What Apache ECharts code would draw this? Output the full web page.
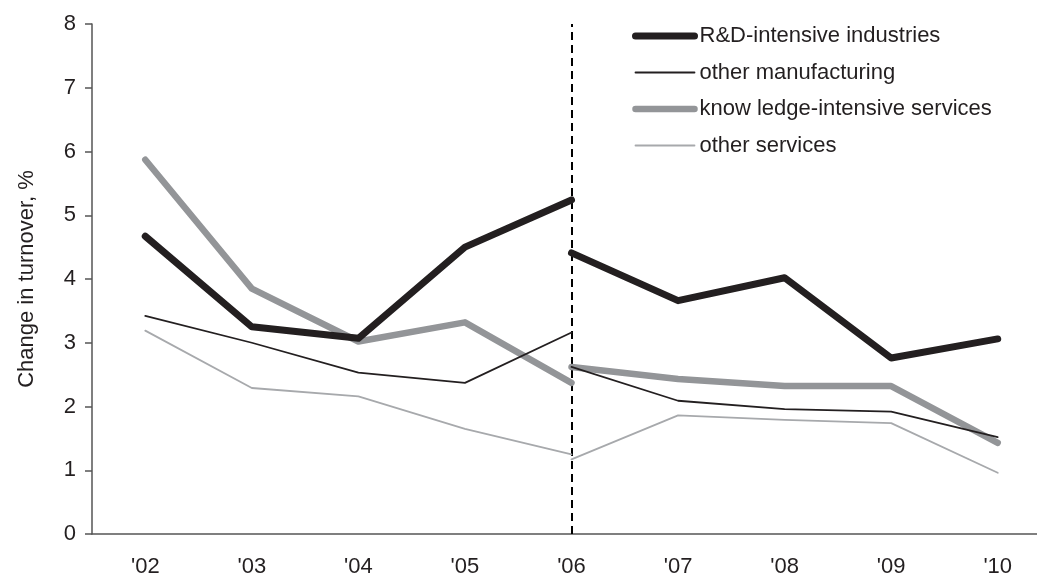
<!DOCTYPE html>
<html>
<head>
<meta charset="utf-8">
<script src="https://cdn.jsdelivr.net/npm/echarts@6/dist/echarts.min.js"></script>
<style>html,body{margin:0;padding:0;background:#fff;overflow:hidden}#c{width:1037px;height:577px}</style>
</head>
<body>
<div id="c"></div>
<script>
const categories = ["'02","'03","'04","'05","'06","'07","'08","'09","'10"];
const yTicks = [0,1,2,3,4,5,6,7,8];
// before the break ('02-'06) and after the break ('06-'10)
const rdBefore = [4.67, 3.25, 3.07, 4.50, 5.24];
const rdAfter = [4.41, 3.66, 4.02, 2.76, 3.06];
const omBefore = [3.42, 3.00, 2.53, 2.37, 3.16];
const omAfter = [2.62, 2.09, 1.96, 1.92, 1.52];
const kisBefore = [5.87, 3.85, 3.02, 3.32, 2.37];
const kisAfter = [2.62, 2.43, 2.32, 2.32, 1.43];
const osBefore = [3.19, 2.29, 2.16, 1.65, 1.25];
const osAfter = [1.17, 1.86, 1.79, 1.74, 0.96];
const names = ['R&D-intensive industries','other manufacturing','know ledge-intensive services','other services'];
const breakAt = "'06";

function leftData(a){ return a.concat([null,null,null,null]); }
function rightData(a){ return [null,null,null,null].concat(a); }

const styles = [
  {color:'#231f20', width:7},
  {color:'#231f20', width:1.8},
  {color:'#939598', width:6.5},
  {color:'#a7a9ac', width:1.8}
];
const sets = [[rdBefore,rdAfter],[omBefore,omAfter],[kisBefore,kisAfter],[osBefore,osAfter]];
const series = [];
sets.forEach((s,i)=>{
  [leftData(s[0]), rightData(s[1])].forEach((d,j)=>{
    series.push({
      name: names[i], type:'line', data:d, symbol:'none', connectNulls:false,
      z: 10 - i,
      lineStyle:{color:styles[i].color, width:styles[i].width, cap:'round', join:'round'},
      itemStyle:{color:styles[i].color},
      emphasis:{disabled:true}, animation:false
    });
  });
});
series[0].markLine = {
  silent:true, symbol:['none','none'], label:{show:false},
  lineStyle:{color:'#000', width:2, type:[8,5]},
  data:[{xAxis: breakAt}]
};

const FONT = 'Liberation Sans, Arial, sans-serif';
const chart = echarts.init(document.getElementById('c'));
chart.setOption({
  animation:false,
  backgroundColor:'#fff',
  textStyle:{fontFamily:FONT},
  grid:{left:92, width:959, top:24, height:510, containLabel:false, outerBoundsMode:'none'},
  legend:{
    orient:'vertical', left:632, top:25, padding:0, itemWidth:59, itemHeight:14, itemGap:14.5,
    selectedMode:false,
    data:names.map((n,i)=>({name:n,
      lineStyle:{width:styles[i].width, color:styles[i].color, cap:'round'},
      itemStyle:{opacity:0}})),
    textStyle:{fontSize:22, color:'#231f20', fontFamily:FONT}
  },
  xAxis:{
    type:'category', data:categories, boundaryGap:true,
    axisLine:{lineStyle:{color:'#555', width:1.5}},
    axisTick:{show:false},
    axisLabel:{fontSize:22, color:'#231f20', margin:22}
  },
  yAxis:{
    type:'value', min:0, max:8, interval:1,
    name:'Change in turnover, %', nameLocation:'middle', nameGap:54,
    nameTextStyle:{fontSize:22, color:'#231f20'},
    axisLine:{show:true, lineStyle:{color:'#555', width:1.5}},
    axisTick:{show:true, length:7, lineStyle:{color:'#555', width:1.5}},
    splitLine:{show:false},
    axisLabel:{fontSize:22, color:'#231f20', margin:16,
      formatter:v=>yTicks.includes(v)?String(v):''}
  },
  series:series
});
</script>
</body>
</html>
